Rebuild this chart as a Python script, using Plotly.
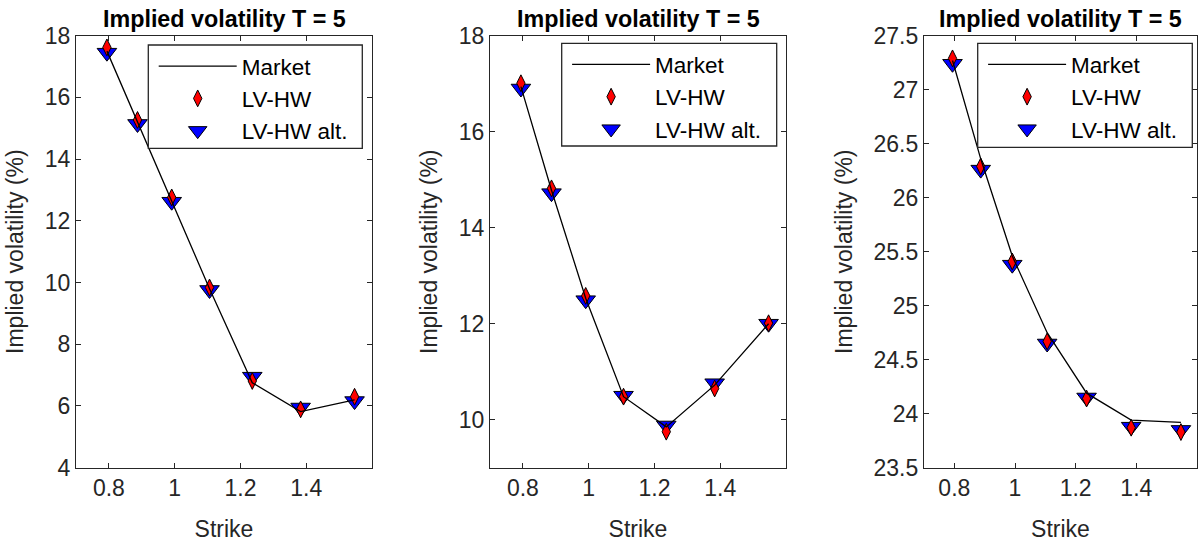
import plotly.graph_objects as go

# ---------------- data ----------------
strikes = [0.794, 0.887, 0.991, 1.106, 1.236, 1.383, 1.547]

market_1 = [17.50, 15.20, 12.65, 9.80, 6.75, 5.82, 6.20]
lvhw_1 = [17.62, 15.27, 12.76, 9.84, 6.81, 5.89, 6.30]
lvhw_alt_1 = [17.45, 15.14, 12.62, 9.76, 6.95, 5.95, 6.16]

market_2 = [16.94, 14.78, 12.53, 10.48, 9.85, 10.72, 12.00]
lvhw_2 = [17.01, 14.82, 12.58, 10.48, 9.75, 10.65, 12.01]
lvhw_alt_2 = [16.90, 14.72, 12.49, 10.50, 9.88, 10.76, 12.00]

market_3 = [27.27, 26.36, 25.46, 24.75, 24.19, 23.94, 23.92]
lvhw_3 = [27.29, 26.29, 25.41, 24.67, 24.14, 23.87, 23.83]
lvhw_alt_3 = [27.24, 26.26, 25.38, 24.65, 24.15, 23.88, 23.85]

x_ticks = [0.8, 1.0, 1.2, 1.4]
x_tick_labels = ["0.8", "1", "1.2", "1.4"]
y_ticks_1 = [4, 6, 8, 10, 12, 14, 16, 18]
y_ticks_2 = [10, 12, 14, 16, 18]
y_ticks_3 = [23.5, 24, 24.5, 25, 25.5, 26, 26.5, 27, 27.5]
y_tick_labels_3 = ["23.5", "24", "24.5", "25", "25.5", "26", "26.5", "27", "27.5"]

title_text = "Implied volatility T = 5"
y_title = "Implied volatility (%)"
x_title = "Strike"
names = ["Market", "LV-HW", "LV-HW alt."]

# ---------------- layout geometry ----------------
W, H = 1200, 543
FONT = "Liberation Sans, Arial, Helvetica, sans-serif"
AX_COL = "#262626"
FS = 23
LEG_FS = 22.5

panels = [
    dict(market=market_1, lv=lvhw_1, alt=lvhw_alt_1, yr=[4, 18], yt=y_ticks_1,
         ytt=[str(v) for v in y_ticks_1], px=(76, 372),
         box=(148.3, 45.0, 362.3, 148.3)),
    dict(market=market_2, lv=lvhw_2, alt=lvhw_alt_2, yr=[9, 18], yt=y_ticks_2,
         ytt=[str(v) for v in y_ticks_2], px=(490, 786),
         box=(561.7, 43.3, 776.7, 146.0)),
    dict(market=market_3, lv=lvhw_3, alt=lvhw_alt_3, yr=[23.5, 27.5], yt=y_ticks_3,
         ytt=y_tick_labels_3, px=(924, 1197),
         box=(977.7, 43.3, 1192.3, 147.3)),
]
top_px, bot_px = 35.7, 467.7
ITEMW = 78

fig = go.Figure()
layout = dict(
    width=W, height=H,
    margin=dict(l=0, r=0, t=0, b=0, autoexpand=False),
    paper_bgcolor="white", plot_bgcolor="white",
    font=dict(family=FONT, size=FS, color=AX_COL),
    annotations=[], shapes=[],
    showlegend=True,
)

for i, p in enumerate(panels, start=1):
    sfx = "" if i == 1 else str(i)
    xa, ya = "x" + sfx, "y" + sfx
    leg = "legend" + sfx
    fig.add_trace(go.Scatter(
        x=strikes, y=p["alt"], mode="markers", name=names[2], xaxis=xa, yaxis=ya,
        legend=leg, legendrank=3,
        marker=dict(symbol="triangle-down", size=17, color="#0000ff",
                    line=dict(color="black", width=1))))
    fig.add_trace(go.Scatter(
        x=strikes, y=p["lv"], mode="markers", name=names[1], xaxis=xa, yaxis=ya,
        legend=leg, legendrank=2,
        marker=dict(symbol="diamond-tall", size=12, color="#ff0000",
                    line=dict(color="black", width=1))))
    fig.add_trace(go.Scatter(
        x=strikes, y=p["market"], mode="lines", name=names[0], xaxis=xa, yaxis=ya,
        legend=leg, legendrank=1,
        line=dict(color="black", width=1.3)))

    dom_x = [p["px"][0] / W, p["px"][1] / W]
    dom_y = [1 - bot_px / H, 1 - top_px / H]
    common = dict(showline=True, linecolor=AX_COL, linewidth=1.3, mirror="ticks",
                  ticks="inside", ticklen=5, tickwidth=1.3, tickcolor=AX_COL,
                  showgrid=False, zeroline=False, automargin=False,
                  tickfont=dict(family=FONT, size=FS, color=AX_COL))
    layout["xaxis" + sfx] = dict(common, domain=dom_x, anchor=ya, range=[0.7, 1.6],
                                 tickmode="array", tickvals=x_ticks, ticktext=x_tick_labels,
                                 title=dict(text=x_title, font=dict(family=FONT, size=FS, color=AX_COL), standoff=20))
    layout["yaxis" + sfx] = dict(common, domain=dom_y, anchor=xa, range=p["yr"],
                                 tickmode="array", tickvals=p["yt"], ticktext=p["ytt"],
                                 title=dict(text=y_title, font=dict(family=FONT, size=FS, color=AX_COL), standoff=14))
    bx0, by0, bx1, by1 = p["box"]
    layout["shapes"].append(dict(
        type="rect", xref="paper", yref="paper", layer="above",
        x0=bx0 / W, x1=bx1 / W, y0=1 - by1 / H, y1=1 - by0 / H,
        fillcolor="white", line=dict(color=AX_COL, width=1.3)))
    layout[leg] = dict(x=(bx0 + 5.4) / W, y=1 - (by0 + 0.0) / H, xanchor="left", yanchor="top",
                       bgcolor="rgba(0,0,0,0)", borderwidth=0,
                       font=dict(family=FONT, size=LEG_FS, color="black"),
                       itemwidth=ITEMW, traceorder="normal", tracegroupgap=0)
    layout["annotations"].append(dict(
        text="<b>" + title_text + "</b>", xref="paper", yref="paper",
        x=(dom_x[0] + dom_x[1]) / 2, y=1 - 19 / H, xanchor="center", yanchor="middle",
        showarrow=False, font=dict(family=FONT, size=23.3, color="black")))

fig.update_layout(**layout)
# remove the browser's default 8px page margin so the figure fills the window exactly
fig.write_html("out.html", config={"displayModeBar": False},
               post_script="document.body.style.margin='0px';")
